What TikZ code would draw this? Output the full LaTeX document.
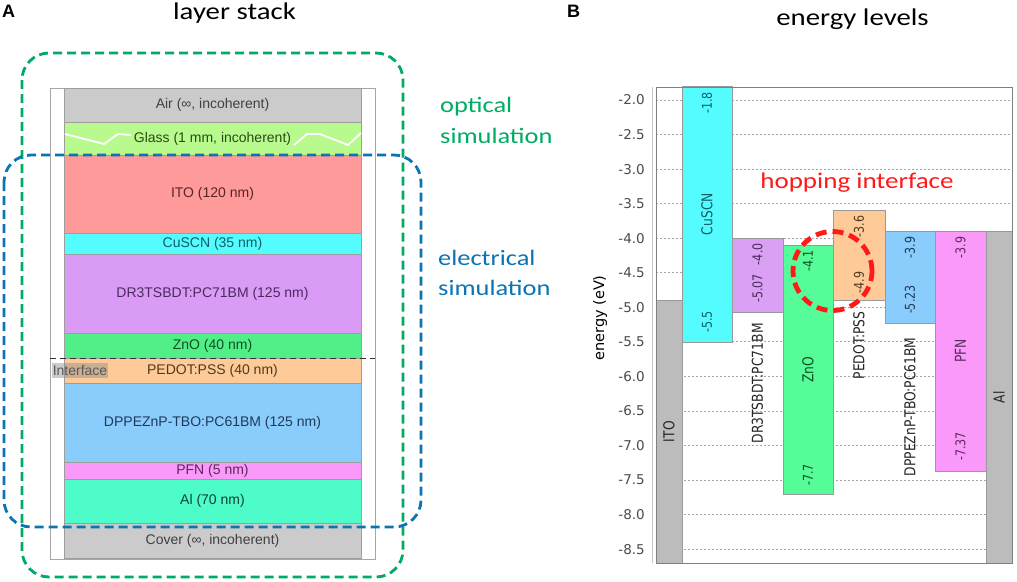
\documentclass[tikz,border=0pt]{standalone}
\usepackage{fontspec}
\setmainfont{Liberation Sans}
\newfontfamily\calfont[FakeStretch=1.2]{Carlito}
\newfontfamily\djfont{DejaVu Sans}
\newfontfamily\djcond[FakeStretch=0.82]{DejaVu Sans}
\newfontfamily\arfont{Liberation Sans}
\definecolor{optgreen}{HTML}{00AB64}
\definecolor{elblue}{HTML}{0A74B4}
\definecolor{grayL}{HTML}{CBCBCB}
\definecolor{glassC}{HTML}{B8FA8E}
\definecolor{itoC}{HTML}{FF9A9A}
\definecolor{cuscnC}{HTML}{55FCFF}
\definecolor{drC}{HTML}{DA9BF6}
\definecolor{znoC}{HTML}{52EF88}
\definecolor{pedotC}{HTML}{FDCA98}
\definecolor{dppC}{HTML}{8ACCFB}
\definecolor{pfnC}{HTML}{FB99FB}
\definecolor{alC}{HTML}{4DFCC8}
\definecolor{barGray}{HTML}{BCBCBC}
\definecolor{znoB}{HTML}{55FC98}
\definecolor{drB}{HTML}{D9A0F3}
\definecolor{cuscnT}{HTML}{0E5E68}
\definecolor{drT}{HTML}{4B2A5E}
\definecolor{znoT}{HTML}{0F4F22}
\definecolor{pedotT}{HTML}{4F3A1F}
\definecolor{dppT}{HTML}{1F3A5A}
\definecolor{pfnT}{HTML}{5A2A5A}
\definecolor{itoT}{HTML}{5A2424}
\definecolor{glassT}{HTML}{2A4A14}
\definecolor{alT}{HTML}{0E4434}
\definecolor{hopred}{HTML}{FF1A1A}
\begin{document}
\begin{tikzpicture}[x=1pt,y=-1pt,
  layer/.style={draw=black!38, line width=0.6pt, minimum width=297pt, inner sep=0pt,
    anchor=north, font=\arfont\fontsize{14}{16}\selectfont},
  title/.style={anchor=base, font=\calfont\fontsize{24}{28}\selectfont},
  simlbl/.style={anchor=base west, inner sep=0pt, font=\calfont\fontsize{22}{26}\selectfont},
  panel/.style={anchor=north west, inner sep=0pt, font=\arfont\bfseries\fontsize{18}{20}\selectfont},
  simbox/.style={dash pattern=on 9pt off 5pt, line width=2.8pt, rounded corners=27pt},
  bar/.style={draw=black!40, line width=0.7pt},
  grid/.style={black!35, line width=0.8pt, dash pattern=on 1.6pt off 2.4pt},
  tick/.style={anchor=east, inner sep=0pt, text=black!70, font=\djfont\fontsize{13.5}{15}\selectfont},
  val/.style={rotate=90, inner sep=0pt, font=\djcond\fontsize{13.5}{15}\selectfont},
  bname/.style={rotate=90, inner sep=0pt, font=\djcond\fontsize{15}{17}\selectfont},
]
\useasboundingbox[fill=white] (0,0) rectangle (1017,581);

% ---------- panel A ----------
\node[panel] (lblA) at (2,5) {A};
\node[title] (titA) at (234.5,19) {layer stack};

\node[draw=black!35, line width=0.7pt, fill=white, minimum width=325pt, minimum height=471pt,
  inner sep=0pt, anchor=north] (frame) at (212.5,87.5) {};

\node[layer, fill=grayL, text=black!75, minimum height=34pt] (air) at (212.5,88) {Air (∞, incoherent)};
\node[layer, fill=glassC, text=glassT, minimum height=33pt] (glass) at (212.5,122) {Glass (1 mm, incoherent)};
\node[layer, fill=itoC, text=itoT, minimum height=78pt] (ito) at (212.5,155) {ITO (120 nm)};
\node[layer, fill=cuscnC, text=cuscnT, minimum height=21pt] (cuscn) at (212.5,233) {CuSCN (35 nm)};
\node[layer, fill=drC, text=drT, minimum height=79pt] (dr) at (212.5,254) {DR3TSBDT:PC71BM (125 nm)};
\node[layer, fill=znoC, text=znoT, minimum height=25pt] (zno) at (212.5,333) {ZnO (40 nm)};
\node[layer, fill=pedotC, text=pedotT, minimum height=25pt] (pedot) at (212.5,358) {PEDOT:PSS (40 nm)};
\node[layer, fill=dppC, text=dppT, minimum height=79pt] (dpp) at (212.5,383) {DPPEZnP-TBO:PC61BM (125 nm)};
\node[layer, fill=pfnC, text=pfnT, minimum height=17pt] (pfn) at (212.5,462) {PFN (5 nm)};
\node[layer, fill=alC, text=alT, minimum height=44pt] (al) at (212.5,479) {Al (70 nm)};
\node[layer, fill=grayL, text=black!75, minimum height=35pt] (cover) at (212.5,523) {Cover (∞, incoherent)};

% glass break symbol
\draw[white, line width=1.8pt, line join=round] (65,134) -- (104,144) -- (118,134) -- (131,135);
\draw[white, line width=1.8pt, line join=round] (294,145) -- (307,134) -- (320,134) -- (348,145) -- (361,133);

% interface
\draw[black!80, line width=1pt, dash pattern=on 6pt off 4pt] (frame.west |- pedot.north) -- (frame.east |- pedot.north);
\node[fill=black!45, fill opacity=0.45, text opacity=1, text=black!65, inner sep=1pt,
  minimum height=15pt, font=\arfont\fontsize{14}{16}\selectfont] (iface) at (80,370) {Interface};

% simulation boxes
\draw[simbox, optgreen] (22,53) rectangle (403,577);
\draw[simbox, elblue] (4,155) rectangle (421,527);
\node[simlbl, text=optgreen] (opt1) at (440,112) {optical};
\node[simlbl, text=optgreen] (opt2) at (440,143) {simulation};
\node[simlbl, text=elblue] (el1) at (438,265) {electrical};
\node[simlbl, text=elblue] (el2) at (438,295) {simulation};

% ---------- panel B ----------
\node[panel] (lblB) at (567,5) {B};
\node[title] (titB) at (852.5,25) {energy levels};

\draw[black!22, line width=0.9pt] (652,87) -- (652,563);
\node[rotate=90, inner sep=0pt, font=\djfont\fontsize{14.5}{16}\selectfont] (ylab) at (600,318) {energy (eV)};

\begin{scope}[shift={(0,-38.2)}, y=69.1pt]
  \foreach \e/\t in {-2.0/-2.0,-2.5/-2.5,-3.0/-3.0,-3.5/-3.5,-4.0/-4.0,-4.5/-4.5,-5.0/-5.0,-5.5/-5.5,-6.0/-6.0,-6.5/-6.5,-7.0/-7.0,-7.5/-7.5,-8.0/-8.0,-8.5/-8.5}{
    \draw[grid] (656,\e) -- (1012,\e);
    \node[tick] (tk\t) at (645,\e) {\t};
  }
  % bars
  \path[bar, fill=barGray] (656,-4.9) rectangle (682,-8.7);
  \path[bar, fill=cuscnC] (682,-1.8) rectangle (732,-5.5);
  \path[bar, fill=drB] (732,-4.0) rectangle (783,-5.07);
  \path[bar, fill=znoB] (783,-4.1) rectangle (833,-7.7);
  \path[bar, fill=pedotC] (833,-3.6) rectangle (885,-4.9);
  \path[bar, fill=dppC] (885,-3.9) rectangle (935,-5.23);
  \path[bar, fill=pfnC] (935,-3.9) rectangle (986,-7.37);
  \path[bar, fill=barGray] (986,-3.9) rectangle (1012,-8.7);

  % labels
  \node[bname, text=black!85] (nITO) at (669,-6.8) {ITO};
  \node[val, text=cuscnT, anchor=east] (v1) at ([yshift=-6pt]707,-1.8) {-1.8};
  \node[bname, text=cuscnT] (nCu) at (707,-3.65) {CuSCN};
  \node[val, text=cuscnT, anchor=west] (v2) at ([yshift=9pt]707,-5.5) {-5.5};

  \node[val, text=drT, anchor=east] (v3) at ([yshift=-5pt]757.5,-4.0) {-4.0};
  \node[val, text=drT, anchor=west] (v4) at ([yshift=9pt]757.5,-5.07) {-5.07};
  \node[bname, text=black!85, anchor=east] (nDR) at ([yshift=-11pt]757.5,-5.07) {DR3TSBDT:PC71BM};

  \node[val, text=znoT, anchor=east] (v5) at ([yshift=-5pt]808,-4.1) {-4.1};
  \node[bname, text=znoT] (nZn) at (808,-5.9) {ZnO};
  \node[val, text=znoT, anchor=west] (v6) at ([yshift=8pt]808,-7.7) {-7.7};

  \node[val, text=pedotT, anchor=east] (v7) at ([yshift=-5pt]859,-3.6) {-3.6};
  \node[val, text=pedotT, anchor=west] (v8) at ([yshift=7pt]859,-4.9) {-4.9};
  \node[bname, text=black!85, anchor=east] (nPE) at ([yshift=-11pt]859,-4.9) {PEDOT:PSS};

  \node[val, text=dppT, anchor=east] (v9) at ([yshift=-5pt]910,-3.9) {-3.9};
  \node[val, text=dppT, anchor=west] (v10) at ([yshift=9pt]910,-5.23) {-5.23};
  \node[bname, text=black!85, anchor=east] (nDP) at ([yshift=-14pt]910,-5.23) {DPPEZnP-TBO:PC61BM};

  \node[val, text=pfnT, anchor=east] (v11) at ([yshift=-5pt]960.5,-3.9) {-3.9};
  \node[bname, text=pfnT] (nPF) at (960.5,-5.63) {PFN};
  \node[val, text=pfnT, anchor=west] (v12) at ([yshift=10pt]960.5,-7.37) {-7.37};

  \node[bname, text=black!85] (nAl) at (999,-6.3) {Al};
\end{scope}

\draw[black!50, line width=0.9pt] (656,87) rectangle (1012,563);

\node[text=hopred, anchor=base, inner sep=0pt, font=\calfont\fontsize{22.5}{26}\selectfont] (hop) at (857,188) {hopping interface};
\node[circle, draw=hopred, line width=4.8pt, dash pattern=on 11pt off 6pt, minimum size=79pt, inner sep=0pt] (hopring) at (832.5,271) {};
\end{tikzpicture}
\end{document}
